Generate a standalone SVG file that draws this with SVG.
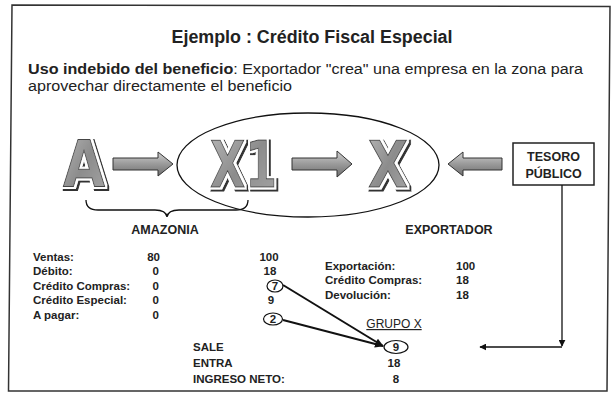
<svg xmlns="http://www.w3.org/2000/svg" width="614" height="398" viewBox="0 0 614 398">
<defs>
<linearGradient id="gl" x1="0" y1="0" x2="1" y2="1">
<stop offset="0" stop-color="#b8b8b8"/>
<stop offset="0.5" stop-color="#8c8c8c"/>
<stop offset="1" stop-color="#a6a6a6"/>
</linearGradient>
<linearGradient id="ga" x1="0" y1="0" x2="0" y2="1">
<stop offset="0" stop-color="#d0d0d0"/>
<stop offset="0.5" stop-color="#9a9a9a"/>
<stop offset="1" stop-color="#6e6e6e"/>
</linearGradient>
<filter id="ws" x="-20%" y="-20%" width="150%" height="150%">
<feMorphology in="SourceAlpha" operator="dilate" radius="1.6" result="d"/>
<feOffset in="d" dx="2" dy="2" result="o"/>
<feFlood flood-color="#333"/>
<feComposite in2="o" operator="in" result="shadow"/>
<feFlood flood-color="#fff"/>
<feComposite in2="d" operator="in" result="white"/>
<feMerge><feMergeNode in="shadow"/><feMergeNode in="white"/><feMergeNode in="SourceGraphic"/></feMerge>
</filter>
<marker id="ah" viewBox="0 0 10 10" refX="9" refY="5" markerWidth="7" markerHeight="7" orient="auto" markerUnits="userSpaceOnUse">
<path d="M0,0 L10,5 L0,10 Z" fill="#111"/>
</marker>
<marker id="ah2" viewBox="0 0 10 10" refX="9" refY="5" markerWidth="9" markerHeight="9" orient="auto" markerUnits="userSpaceOnUse">
<path d="M0,1 L10,5 L0,9 Z" fill="#111"/>
</marker>
</defs>
<style>
text{font-family:"Liberation Sans",Arial,sans-serif;fill:#222}
.title{font-size:18px;font-weight:bold}
.body{font-size:15.5px}
.b{font-weight:bold}
.lbl{font-size:11.5px;font-weight:bold}
.mid{text-anchor:middle}
.end{text-anchor:end}
.big{font-family:"DejaVu Sans","Liberation Sans",sans-serif;font-size:64px;font-weight:bold;fill:url(#gl);stroke:#444;stroke-width:1;filter:url(#ws)}
.blk{fill:url(#ga);stroke:#333;stroke-width:1}
.ln{fill:none;stroke:#111;stroke-width:1.3}
.circ{fill:none;stroke:#111;stroke-width:1.2}
</style>
<path d="M12,5 L610,6.5 L607,391 L8.5,391 Z" fill="#fff" stroke="#333" stroke-width="1.5"/>
<text class="title mid" x="312" y="43" textLength="281" lengthAdjust="spacingAndGlyphs">Ejemplo : Crédito Fiscal Especial</text>
<text class="body" x="28" y="74" textLength="555" lengthAdjust="spacingAndGlyphs"><tspan class="b">Uso indebido del beneficio</tspan>: Exportador "crea" una empresa en la zona para</text>
<text class="body" x="28" y="91" textLength="264" lengthAdjust="spacingAndGlyphs">aprovechar directamente el beneficio</text>

<ellipse cx="308" cy="165" rx="131" ry="52" class="ln"/>
<path class="ln" d="M86,200 Q86,210 98,210 L155,210 Q166,210 167,217 Q168,210 179,210 L236,210 Q248,210 248,200"/>
<text class="lbl mid" x="165" y="234" style="font-size:12.5px">AMAZONIA</text>
<text class="lbl mid" x="449" y="234" style="font-size:12.5px">EXPORTADOR</text>

<g id="node-A">
<text class="big" x="63" y="187" textLength="42" lengthAdjust="spacingAndGlyphs">A</text>
</g>
<g id="node-X1">
<text class="big" x="210" y="187" textLength="67" lengthAdjust="spacingAndGlyphs">X1</text>
</g>
<g id="node-X">
<text class="big" x="368" y="187" textLength="40" lengthAdjust="spacingAndGlyphs">X</text>
</g>
<g id="node-tesoro">
<rect x="513" y="143" width="81" height="42" fill="#fff" stroke="#222" stroke-width="1.5"/>
<text class="lbl mid" x="553.5" y="161" style="font-size:12.5px">TESORO</text>
<text class="lbl mid" x="553.5" y="178" style="font-size:12.5px">PÚBLICO</text>
</g>

<g id="connectors">
<path class="blk" d="M113,158 H158 V152 L173,164 L158,176 V170 H113 Z"/>
<path class="blk" d="M292,158 H337 V151 L352,164 L337,177 V170 H292 Z"/>
<path class="blk" d="M502,158 H463 V152 L448,164 L463,176 V170 H502 Z"/>
<path class="ln" d="M562,185 V346" marker-end="url(#ah)"/>
<path class="ln" d="M562,347 H480" marker-end="url(#ah)"/>
<path d="M283,285 L383,346" stroke="#111" stroke-width="2" fill="none" marker-end="url(#ah2)"/>
<path d="M283,320 L383,346" stroke="#111" stroke-width="2" fill="none" marker-end="url(#ah2)"/>
</g>

<g id="table-amazonia">
<text class="lbl" x="33" y="261">Ventas:</text>
<text class="lbl" x="33" y="275">Débito:</text>
<text class="lbl" x="33" y="290">Crédito Compras:</text>
<text class="lbl" x="33" y="304">Crédito Especial:</text>
<text class="lbl" x="33" y="319">A pagar:</text>
<text class="lbl end" x="160" y="261">80</text>
<text class="lbl end" x="159" y="275">0</text>
<text class="lbl end" x="159" y="290">0</text>
<text class="lbl end" x="159" y="304">0</text>
<text class="lbl end" x="159" y="319">0</text>
<text class="lbl mid" x="269" y="261">100</text>
<text class="lbl mid" x="270" y="275">18</text>
<text class="lbl mid" x="275" y="290">7</text>
<ellipse cx="275" cy="286" rx="8" ry="6" class="circ"/>
<text class="lbl mid" x="271" y="304">9</text>
<text class="lbl mid" x="273" y="323">2</text>
<ellipse cx="273" cy="319" rx="9.5" ry="6" class="circ"/>
</g>
<g id="table-exportador">
<text class="lbl" x="325" y="270">Exportación:</text>
<text class="lbl" x="325" y="284">Crédito Compras:</text>
<text class="lbl" x="325" y="299">Devolución:</text>
<text class="lbl" x="456" y="270">100</text>
<text class="lbl" x="456" y="284">18</text>
<text class="lbl" x="456" y="299">18</text>
</g>
<g id="grupo-x">
<text class="mid" x="394" y="328" style="font-size:12px" text-decoration="underline">GRUPO X</text>
<ellipse cx="396" cy="347" rx="12" ry="6.5" class="circ"/>
<text class="lbl mid" x="396" y="351">9</text>
<text class="lbl mid" x="394" y="367">18</text>
<text class="lbl mid" x="396" y="383">8</text>
<text class="lbl" x="193" y="351">SALE</text>
<text class="lbl" x="193" y="367">ENTRA</text>
<text class="lbl" x="193" y="383">INGRESO NETO:</text>
</g>
</svg>
